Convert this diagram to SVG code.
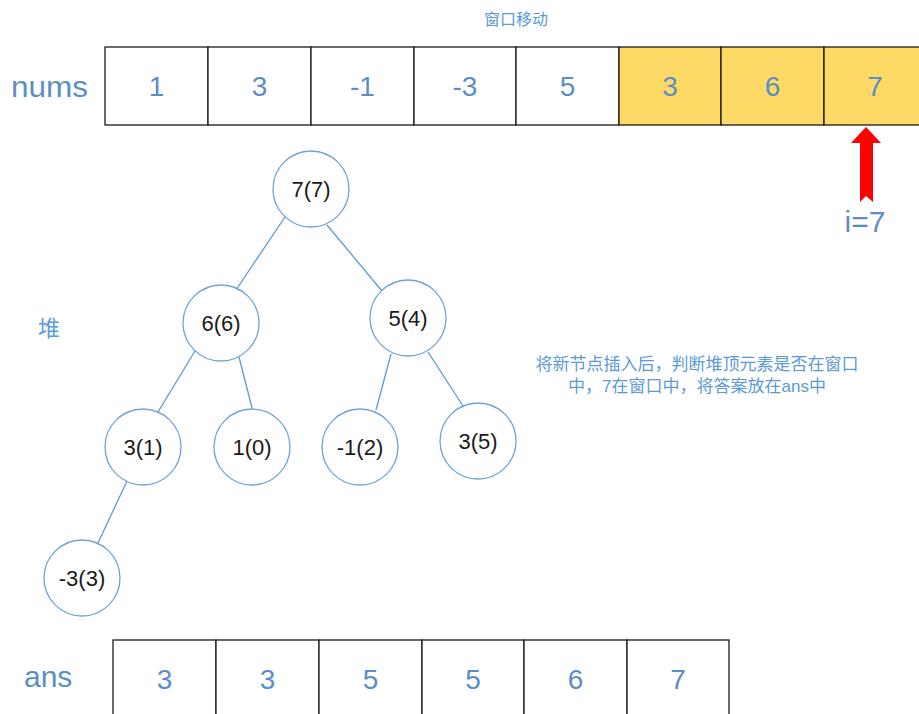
<svg xmlns="http://www.w3.org/2000/svg" width="919" height="714" viewBox="0 0 919 714">
<style>
.cell{fill:#fff;stroke:#1a1a1a;stroke-width:1.3}
.win{fill:#FFD966;stroke:#1a1a1a;stroke-width:1.3}
.num{font-family:"Liberation Sans",Arial,sans-serif;font-size:28px;fill:#5B8FC4;text-anchor:middle}
.lab{font-family:"Liberation Sans",Arial,sans-serif;font-size:30px;fill:#5B8FC4}
.cjk{font-family:"Liberation Sans","Noto Sans CJK SC",sans-serif;fill:#5B9BD5;text-anchor:middle}
.node circle{fill:#fff;stroke:#6FA3DA;stroke-width:1.3}
.node text{font-family:"Liberation Sans",Arial,sans-serif;font-size:22px;fill:#1a1a1a;text-anchor:middle}
.edge{stroke:#5B9BD5;stroke-width:1.3}
</style>
<rect width="919" height="714" fill="#fff"/>
<text class="cjk" x="516" y="25" font-size="16">窗口移动</text>
<g id="nums">
<text class="lab" x="11" y="97" textLength="77" lengthAdjust="spacingAndGlyphs">nums</text>
<rect class="cell" x="105" y="47" width="103" height="78"/>
<rect class="cell" x="208" y="47" width="103" height="78"/>
<rect class="cell" x="311" y="47" width="103" height="78"/>
<rect class="cell" x="414" y="47" width="102" height="78"/>
<rect class="cell" x="516" y="47" width="103" height="78"/>
<rect class="win" x="619" y="47" width="102" height="78"/>
<rect class="win" x="721" y="47" width="103" height="78"/>
<rect class="win" x="824" y="47" width="103" height="78"/>
<text class="num" x="156.5" y="96">1</text>
<text class="num" x="259.5" y="96">3</text>
<text class="num" x="362.5" y="96">-1</text>
<text class="num" x="465" y="96">-3</text>
<text class="num" x="567.5" y="96">5</text>
<text class="num" x="670" y="96">3</text>
<text class="num" x="772.5" y="96">6</text>
<text class="num" x="875" y="96">7</text>
</g>
<g id="pointer">
<polygon points="866,127 881,143 873,143 873,202 866,196 860,202 860,143 851,143" fill="#FF0000"/>
<text class="lab" x="865" y="232" text-anchor="middle">i=7</text>
</g>
<text class="cjk" x="49" y="336" font-size="22" fill="#5B8FC4">堆</text>
<g id="edges">
<line class="edge" x1="285" y1="217" x2="236" y2="290"/>
<line class="edge" x1="327" y1="225" x2="382" y2="291"/>
<line class="edge" x1="195" y1="351" x2="158" y2="412"/>
<line class="edge" x1="239" y1="357" x2="252" y2="408"/>
<line class="edge" x1="391" y1="354" x2="376" y2="410"/>
<line class="edge" x1="428" y1="352" x2="463" y2="406"/>
<line class="edge" x1="127" y1="481" x2="98" y2="543"/>
</g>
<g id="n77" class="node"><circle cx="311" cy="189" r="38"/><text x="311" y="197">7(7)</text></g>
<g id="n66" class="node"><circle cx="221" cy="323" r="38"/><text x="221" y="331">6(6)</text></g>
<g id="n54" class="node"><circle cx="408" cy="318" r="38"/><text x="408" y="326">5(4)</text></g>
<g id="n31" class="node"><circle cx="143" cy="447" r="38"/><text x="143" y="455">3(1)</text></g>
<g id="n10" class="node"><circle cx="252" cy="447" r="38"/><text x="252" y="455">1(0)</text></g>
<g id="nm12" class="node"><circle cx="360" cy="447" r="38"/><text x="360" y="455">-1(2)</text></g>
<g id="n35" class="node"><circle cx="478" cy="441" r="38"/><text x="478" y="449">3(5)</text></g>
<g id="nm33" class="node"><circle cx="82" cy="578" r="38"/><text x="82" y="586">-3(3)</text></g>
<g id="note">
<text class="cjk" x="697" y="370" font-size="17">将新节点插入后，判断堆顶元素是否在窗口</text>
<text class="cjk" x="697" y="392" font-size="17">中，7在窗口中，将答案放在ans中</text>
</g>
<g id="ans">
<text class="lab" x="24" y="687">ans</text>
<rect class="cell" x="113" y="640" width="103" height="80"/>
<rect class="cell" x="216" y="640" width="103" height="80"/>
<rect class="cell" x="319" y="640" width="103" height="80"/>
<rect class="cell" x="422" y="640" width="102" height="80"/>
<rect class="cell" x="524" y="640" width="103" height="80"/>
<rect class="cell" x="627" y="640" width="102" height="80"/>
<text class="num" x="164.5" y="689">3</text>
<text class="num" x="267.5" y="689">3</text>
<text class="num" x="370.5" y="689">5</text>
<text class="num" x="473" y="689">5</text>
<text class="num" x="575.5" y="689">6</text>
<text class="num" x="678" y="689">7</text>
</g>
</svg>
